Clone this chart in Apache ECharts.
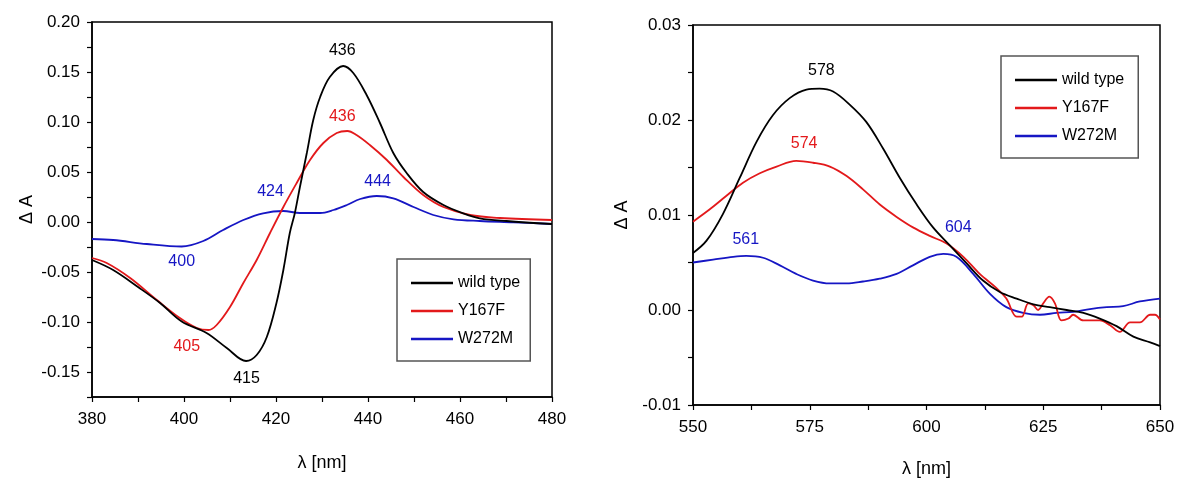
<!DOCTYPE html>
<html><head><meta charset="utf-8">
<script src="https://cdn.jsdelivr.net/npm/echarts@6/dist/echarts.min.js"></script>
<style>html,body{margin:0;padding:0;background:#fff}#c{width:1179px;height:483px}</style>
</head><body><div id="c"></div>
<script>
// ---------- Left panel (380-480 nm) ----------
const L_wt_x = [380,384.6,390,394.8,399.5,404.9,409.3,413.5,415.8,418,420.1,421.6,423,424.1,425.2,426.7,428.1,429.6,431.7,434.6,436.8,439.7,442.6,445.5,448.4,452,456.4,460.7,464.3,470.1,480];
const L_wt_y = [-0.038,-0.048,-0.065,-0.081,-0.0995,-0.111,-0.126,-0.139,-0.133,-0.115,-0.081,-0.048,-0.011,0.009,0.035,0.069,0.102,0.125,0.145,0.156,0.149,0.127,0.099,0.069,0.049,0.030,0.017,0.0087,0.0037,0.001,-0.002];
const L_y1_x = [380,383.2,388.3,394.1,399.1,402.8,405.3,407.1,410,412.9,415.8,418.7,421.6,424.5,427.4,430.3,433.2,435.5,437.5,440.4,444.1,447.7,452,456.4,462.2,468.7,480];
const L_y1_y = [-0.036,-0.041,-0.056,-0.078,-0.096,-0.106,-0.108,-0.103,-0.085,-0.061,-0.038,-0.011,0.015,0.039,0.062,0.079,0.089,0.091,0.087,0.077,0.062,0.045,0.027,0.015,0.007,0.004,0.002];
const L_w2_x = [380,384.6,391.9,399.5,404.2,408.5,412.9,417.2,421.6,425.2,429.6,432.5,435.4,438.3,441.9,445.5,449.9,454.2,458.6,464.3,471.6,480];
const L_w2_y = [-0.017,-0.018,-0.022,-0.0245,-0.019,-0.008,0.002,0.0087,0.011,0.009,0.009,0.012,0.017,0.023,0.026,0.0237,0.015,0.007,0.0027,0.001,-0.0003,-0.002];
const L_xTicks = [380,400,420,440,460,480];
const L_yTicks = [-0.15,-0.10,-0.05,0.00,0.05,0.10,0.15,0.20];
// peak annotations: [nm, dA, text, series]
const L_notes = [[434.4,0.171,'436',0],[413.6,-0.157,'415',0],[434.4,0.105,'436',1],[400.6,-0.125,'405',1],[418.8,0.030,'424',2],[442.1,0.040,'444',2],[399.5,-0.040,'400',2]];

// ---------- Right panel (550-650 nm) ----------
const R_wt_x = [550,552.9,556.4,560,563.6,567.1,570.7,574.3,577.1,580,583.6,587.1,590.7,594.3,597.9,601.4,605,608.6,612.1,615.7,619.3,622.9,626.4,630,633.6,637.1,640.7,644.3,647.9,650];
const R_wt_y = [0.0060,0.0073,0.0101,0.0139,0.0177,0.0205,0.0223,0.0232,0.0233,0.0230,0.0216,0.0198,0.0170,0.0139,0.0111,0.0087,0.0068,0.0049,0.0031,0.0019,0.0012,0.0006,0.0003,0.0000,-0.0003,-0.0009,-0.0017,-0.0028,-0.0034,-0.0038];
const R_y1_x = [550,553.6,557.1,560.7,564.3,567.9,572.1,575.7,579.3,582.9,586.4,590,593.6,597.1,600.7,604.3,607.9,611.4,615,617.1,619.3,620.4,621.8,622.9,623.9,625,626.3,627.5,628.9,630.4,631.4,633.6,637.1,639.3,641.4,643.6,645.7,647.9,648.9,650];
const R_y1_y = [0.0093,0.0106,0.0120,0.0134,0.0144,0.0151,0.0157,0.0155,0.0151,0.0141,0.0127,0.0111,0.0098,0.0087,0.0078,0.0070,0.0056,0.0038,0.0023,0.0012,-0.0007,-0.0007,0.0007,0.0005,0.0000,0.0007,0.0014,0.0007,-0.0011,-0.0009,-0.0005,-0.0011,-0.0011,-0.0016,-0.0023,-0.0013,-0.0013,-0.0005,-0.0005,-0.0010];
const R_w2_x = [550,554.3,558.6,561.4,565,568.6,572.1,575.7,579.3,582.9,586.4,590,593.6,597.1,600.7,603.6,606.4,610,613.6,617.1,620.7,624.3,627.9,631.4,635,638.6,642.1,645.7,650];
const R_w2_y = [0.0050,0.0053,0.0056,0.0057,0.0055,0.0047,0.0038,0.0031,0.0028,0.0028,0.0030,0.0033,0.0038,0.0047,0.0056,0.0059,0.0056,0.0038,0.0017,0.0003,-0.0003,-0.0005,-0.0003,-0.0002,0.0001,0.0003,0.0004,0.0009,0.0012];
const R_xTicks = [550,575,600,625,650];
const R_yTicks = [-0.01,0.00,0.01,0.02,0.03];
const R_notes = [[577.5,0.0252,'578',0],[573.8,0.0175,'574',1],[561.3,0.0074,'561',2],[606.8,0.0087,'604',2]];

const names = ['wild type','Y167F','W272M'];
const colors = ['#000000','#e3191b','#1616c4'];
const FONT = "'Liberation Sans', Arial, sans-serif";

function zip(xs, ys){ return xs.map((x,i)=>[x, ys[i]]); }
function near(v, list){ return list.some(t => Math.abs(t - v) < 1e-6); }

function mkSeries(idx, grid, xs, ys, notes){
  return {
    type:'line', name:names[idx], xAxisIndex:grid, yAxisIndex:grid,
    data: zip(xs, ys), showSymbol:false, symbol:'none', smooth:0.35,
    lineStyle:{color:colors[idx], width:1.8}, itemStyle:{color:colors[idx]},
    animation:false, z: 3 - idx,
    markPoint:{
      symbol:'circle', symbolSize:1, silent:true, animation:false,
      itemStyle:{color:'rgba(0,0,0,0)'},
      label:{show:true, position:'inside', formatter:p=>p.name, color:colors[idx], fontFamily:FONT, fontSize:16},
      data: notes.filter(n=>n[3]===idx).map(n=>({name:n[2], coord:[n[0], n[1]]}))
    }
  };
}

const axisCommon = {
  axisLine:{show:true, onZero:false, lineStyle:{color:'#000', width:1.5}},
  axisTick:{show:true, inside:false, length:5, lineStyle:{color:'#000', width:1.2}},
  splitLine:{show:false},
  axisLabel:{color:'#000', fontFamily:FONT, fontSize:17},
  nameTextStyle:{color:'#000', fontFamily:FONT, fontSize:18},
  nameLocation:'middle'
};

const legendCommon = {
  orient:'vertical', data:names, icon:'rect', itemWidth:42, itemHeight:2.5, itemGap:10,
  borderColor:'#555', borderWidth:1.5, selectedMode:false,
  textStyle:{fontFamily:FONT, fontSize:16, color:'#000', lineHeight:18}
};

const option = {
  backgroundColor:'#fff',
  animation:false,
  grid:[
    {left:92, right:627, top:22, bottom:86, show:true, borderColor:'#000', borderWidth:1.5, backgroundColor:'transparent'},
    {left:693, right:19, top:25, bottom:73, show:true, borderColor:'#000', borderWidth:1.5, backgroundColor:'transparent'}
  ],
  xAxis:[
    Object.assign({}, axisCommon, {type:'value', gridIndex:0, min:380, max:480, interval:10, name:'λ [nm]', nameGap:57,
      axisLabel:Object.assign({}, axisCommon.axisLabel, {margin:14, formatter:v=> near(v, L_xTicks) ? String(v) : ''})}),
    Object.assign({}, axisCommon, {type:'value', gridIndex:1, min:550, max:650, interval:12.5, name:'λ [nm]', nameGap:55,
      axisLabel:Object.assign({}, axisCommon.axisLabel, {margin:14, formatter:v=> near(v, R_xTicks) ? String(v) : ''})})
  ],
  yAxis:[
    Object.assign({}, axisCommon, {type:'value', gridIndex:0, min:-0.175, max:0.2, interval:0.025, name:'Δ A', nameGap:56,
      axisLabel:Object.assign({}, axisCommon.axisLabel, {margin:12, formatter:v=> near(v, L_yTicks) ? v.toFixed(2) : ''})}),
    Object.assign({}, axisCommon, {type:'value', gridIndex:1, min:-0.01, max:0.03, interval:0.005, name:'Δ A', nameGap:62,
      axisLabel:Object.assign({}, axisCommon.axisLabel, {margin:12, formatter:v=> near(v, R_yTicks) ? v.toFixed(2) : ''})})
  ],
  legend:[
    Object.assign({}, legendCommon, {left:397, top:259, padding:[15,10,13,14]}),
    Object.assign({}, legendCommon, {left:1001, top:56, padding:[15,14,13,14]})
  ],
  series:[
    mkSeries(0,0,L_wt_x,L_wt_y,L_notes),
    mkSeries(1,0,L_y1_x,L_y1_y,L_notes),
    mkSeries(2,0,L_w2_x,L_w2_y,L_notes),
    mkSeries(0,1,R_wt_x,R_wt_y,R_notes),
    mkSeries(1,1,R_y1_x,R_y1_y,R_notes),
    mkSeries(2,1,R_w2_x,R_w2_y,R_notes)
  ]
};
const chart = echarts.init(document.getElementById('c'), null, {renderer:'canvas'});
chart.setOption(option);
</script></body></html>
